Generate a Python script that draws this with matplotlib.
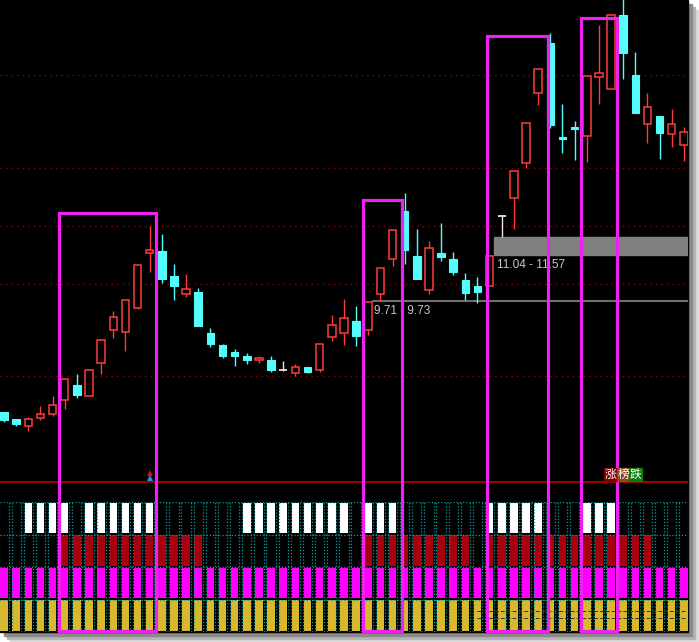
import matplotlib
matplotlib.use("Agg")
import matplotlib.pyplot as plt
from matplotlib.patches import Rectangle

# daily candles (open, high, low, close)
opens = [6.55, 6.35, 6.16, 6.38, 6.50, 6.90, 7.33, 7.01, 7.95, 8.89,
         8.83, 9.52, 11.09, 11.15, 10.43, 9.92, 10.00, 8.80, 8.46, 8.27,
         8.15, 8.05, 8.03, 7.77, 7.66, 7.83, 7.75, 8.69, 8.80, 9.15,
         8.90, 9.92, 10.92, 12.29, 11.02, 10.04, 11.10, 10.93, 10.32, 10.15,
         10.17, 12.16, 12.66, 13.68, 15.66, 17.10, 14.42, 14.71, 14.43, 16.12,
         15.80, 17.90, 16.18, 14.80, 15.02, 14.49, 14.20]
highs = [6.55, 6.36, 6.40, 6.72, 7.01, 7.49, 7.64, 7.78, 8.60, 9.44,
         9.75, 10.76, 11.87, 11.63, 10.80, 10.49, 10.09, 8.95, 8.49, 8.35,
         8.23, 8.15, 8.15, 8.00, 7.92, 7.83, 8.49, 9.32, 9.80, 9.59,
         9.71, 10.66, 11.76, 12.82, 11.80, 11.43, 11.95, 11.12, 10.52, 10.42,
         11.04, 12.16, 13.44, 14.81, 16.35, 17.38, 15.35, 14.87, 16.15, 17.61,
         17.89, 18.60, 16.84, 15.67, 15.02, 15.22, 14.71]
lows = [6.26, 6.15, 6.02, 6.33, 6.44, 6.63, 6.95, 7.00, 7.63, 8.66,
        8.29, 9.49, 10.56, 10.25, 9.75, 9.85, 9.00, 8.40, 8.09, 7.86,
        7.93, 7.96, 7.69, 7.74, 7.58, 7.66, 7.69, 8.58, 8.46, 8.45,
        8.75, 9.73, 10.72, 10.80, 10.36, 9.92, 10.86, 10.48, 9.75, 9.68,
        10.15, 11.57, 11.80, 13.52, 15.32, 14.68, 13.96, 13.76, 13.71, 15.36,
        15.80, 16.08, 15.11, 14.25, 13.79, 14.13, 13.73]
closes = [6.33, 6.20, 6.37, 6.49, 6.77, 7.49, 7.03, 7.77, 8.60, 9.26,
          9.75, 10.76, 11.18, 10.36, 10.17, 10.06, 9.00, 8.49, 8.17, 8.17,
          8.03, 8.10, 7.75, 7.77, 7.83, 7.69, 8.49, 9.05, 9.23, 8.73,
          9.71, 10.66, 11.76, 11.20, 10.36, 11.25, 11.00, 10.56, 9.97, 10.00,
          11.02, 12.16, 13.44, 14.81, 16.35, 14.76, 14.35, 14.65, 16.15, 16.23,
          17.89, 16.82, 15.11, 15.27, 14.52, 14.78, 14.57]

grid_levels = [16.18, 13.53, 11.87, 10.21, 7.58]

# price gaps: (start index, low, high)
gaps = [(30.3, 9.71, 9.73), (40.4, 11.04, 11.57)]

# highlight boxes: (left idx, right idx, top price)
boxes = [(4.5, 12.55, 12.24), (29.6, 32.75, 12.61),
         (39.8, 44.8, 17.31), (47.5, 50.5, 17.81)]

signal_idx = [12]

# indicator rows, candle indices that are lit
white_on = [2, 3, 4, 5, 7, 8, 9, 10, 11, 12, 20, 21, 22, 23, 24, 25, 26, 27, 28,
            30, 31, 32, 40, 41, 42, 43, 44, 48, 49, 50]
red_on = list(range(5, 17)) + list(range(30, 39)) + list(range(40, 54))
magenta_on = list(range(57))
yellow_on = list(range(57))

tag_chars = ["涨", "榜", "跌"]
tag_colors = ["#820000", "#8b4a1c", "#0a7a0a"]

UP = "#ff3c3c"
DOWN = "#54fcfc"
FLAT = "#e6e6e6"
BOX = "#ee22ee"

W, H = 699, 642
fig = plt.figure(figsize=(W / 100, H / 100), dpi=100, facecolor="white")

# drop shadow + black panel background
for off, col in [(10, "#dcdcdc"), (7, "#b4b4b4"), (4, "#8a8a8a")]:
    fig.patches.append(Rectangle((off / W, (10 - off) / H), 688 / W, 632 / H,
                                 transform=fig.transFigure, color=col, zorder=0))
fig.patches.append(Rectangle((0, 10 / H), 688 / W, 632 / H,
                             transform=fig.transFigure, color="black", zorder=0))

n = len(opens)
xlim = (-0.33, 56.34)

ax = fig.add_axes([0, 10 / H, 688 / W, 632 / H])
ax.set_facecolor("none")
ax.set_xlim(*xlim)
ax.set_ylim(0.27, 18.33)
ax.set_xticks([])
ax.set_yticks([])
for s in ax.spines.values():
    s.set_visible(False)
ax.set_zorder(2)

for lv in grid_levels:
    ax.axhline(lv, color="#8c0000", lw=1.0, ls=(0, (1, 3)), zorder=1)
ax.axhline(4.55, color="#a00000", lw=1.4, zorder=1)

# gaps
for x0, lo, hi in gaps:
    if hi - lo < 0.1:
        ax.hlines((lo + hi) / 2, x0, xlim[1], color="#6e6e6e", lw=1.5, zorder=2)
    else:
        ax.add_patch(Rectangle((x0, lo), xlim[1] - x0, hi - lo, color="#808080", zorder=2))
for x0, lo, hi in gaps:
    ylab = lo - 0.27 if hi - lo < 0.1 else lo - 0.29
    ax.text(x0 + 0.18, ylab, f"{lo:.2f} - {hi:.2f}", color="#c8c8c8",
            fontsize=8.5, family="Liberation Sans", va="center", ha="left", zorder=3)

# candles
bw = 0.62
for i in range(n):
    o, h, l, c = opens[i], highs[i], lows[i], closes[i]
    if c > o:
        ax.vlines(i, c, h, color=UP, lw=1.0, zorder=4)
        ax.vlines(i, l, o, color=UP, lw=1.0, zorder=4)
        ax.add_patch(Rectangle((i - bw / 2, o), bw, c - o, facecolor="black",
                               edgecolor=UP, lw=1.1, zorder=4))
    elif c < o:
        ax.vlines(i, l, h, color=DOWN, lw=1.0, zorder=4)
        ax.add_patch(Rectangle((i - bw / 2, c), bw, o - c, facecolor=DOWN,
                               edgecolor=DOWN, lw=0.8, zorder=4))
    else:
        ax.vlines(i, l, h, color=FLAT, lw=1.0, zorder=4)
        ax.hlines(o, i - bw / 2, i + bw / 2, color=FLAT, lw=1.3, zorder=4)

for i in signal_idx:
    ax.plot(i, 4.80, marker="^", color="#d01010", ms=4, mew=0, zorder=5)
    ax.plot(i, 4.67, marker="^", color="#2a90ff", ms=4, mew=0, zorder=5)

# highlight boxes
for x0, x1, top in boxes:
    ax.add_patch(Rectangle((x0, 0.30), x1 - x0, top - 0.30, fill=False,
                           edgecolor=BOX, lw=2.3, zorder=6, clip_on=False))

# indicator panel
ax2 = fig.add_axes([0, 10 / H, 688 / W, 130 / H])
ax2.set_facecolor("none")
ax2.set_xlim(*xlim)
ax2.set_ylim(0, 4)
ax2.set_xticks([])
ax2.set_yticks([])
for s in ax2.spines.values():
    s.set_visible(False)
ax2.set_zorder(1)

rows = [(white_on, "#ffffff", 3), (red_on, "#a8000f", 2),
        (magenta_on, "#ff00ff", 1), (yellow_on, "#d8b82c", 0)]
for idx, col, base in rows:
    ax2.bar(idx, 0.93, width=0.62, bottom=base + 0.04, color=col, zorder=2)

dot = (0, (1, 1.5))
for r in range(5):
    ax2.axhline(r, color="#0a9a9a", lw=0.9, ls=dot, zorder=3)
for i in range(n):
    ax2.vlines([i - 0.38, i + 0.38], 0, 4, color="#0a9a9a", lw=0.9, ls=dot, zorder=3)
ax2.hlines([0.66, 0.43], 39, 56.2, color="#333333", lw=0.7, ls=(0, (4, 2)), zorder=3)

# 涨榜跌 tag
for k, (ch, bg) in enumerate(zip(tag_chars, tag_colors)):
    x0 = 604 + 12.7 * k
    fig.patches.append(Rectangle((x0 / W, (H - 481) / H), 12.7 / W, 13 / H,
                                 transform=fig.transFigure, color=bg, zorder=7))
    fig.text((x0 + 6.35) / W, (H - 474.5) / H, ch, color="white", fontsize=8.5,
             family=["Noto Sans CJK SC", "DejaVu Sans"], ha="center", va="center",
             zorder=8)

fig.savefig("out.png", dpi=100, facecolor="white")
